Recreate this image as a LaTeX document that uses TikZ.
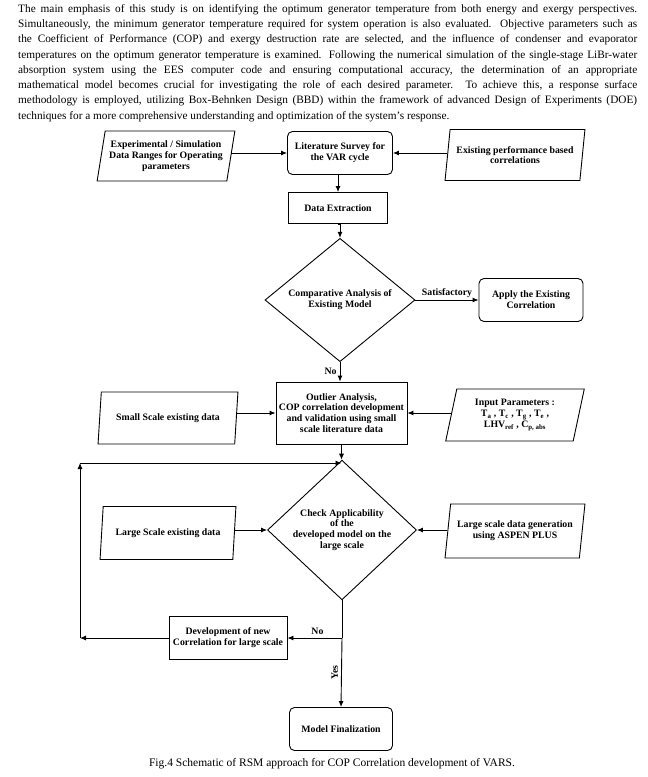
\documentclass[tikz,border=0pt]{standalone}
\usepackage{fontspec}
\setmainfont{Liberation Serif}
\usetikzlibrary{shapes.geometric,arrows.meta}
\begin{document}
\begin{tikzpicture}[x=1pt,y=-1pt,
  lbl/.style={font=\fontsize{9.8}{10.8}\selectfont\bfseries, align=center},
  base/.style={lbl, draw, line width=0.9pt, inner sep=1pt},
  rbox/.style={base, rectangle},
  rrbox/.style={base, rectangle, rounded corners=5pt},
  pgram/.style={base, trapezium, trapezium left angle=77, trapezium right angle=103, trapezium stretches=true, inner xsep=0pt},
  dmd/.style={base, diamond, inner sep=0pt},
  arr/.style={line width=0.9pt, -{Latex[length=6pt,width=5pt]}},
  ln/.style={line width=0.9pt}]
\useasboundingbox (0,0) rectangle (648,777);

\node[anchor=north west, text width=619pt, align=justify, inner sep=0pt, font=\fontsize{11.3}{15.3}\selectfont] (para) at (18,4)
{The main emphasis of this study is on identifying the optimum generator temperature from both energy and exergy perspectives.\linebreak
Simultaneously, the minimum generator temperature required for system operation is also evaluated. Objective parameters such as\linebreak
the Coefficient of Performance (COP) and exergy destruction rate are selected, and the influence of condenser and evaporator\linebreak
temperatures on the optimum generator temperature is examined. Following the numerical simulation of the single-stage LiBr-water\linebreak
absorption system using the EES computer code and ensuring computational accuracy, the determination of an appropriate\linebreak
mathematical model becomes crucial for investigating the role of each desired parameter. To achieve this, a response surface\linebreak
methodology is employed, utilizing Box-Behnken Design (BBD) within the framework of advanced Design of Experiments (DOE)\linebreak
techniques for a more comprehensive understanding and optimization of the system's response.\par};

% main column
\node[rrbox, minimum width=105pt, minimum height=43pt] (lit) at (340,153) {Literature Survey for\\the VAR cycle};
\node[rbox, minimum width=99pt, minimum height=31pt] (ext) at (338,208) {Data Extraction};
\node[dmd, minimum width=150pt, minimum height=104pt] (cmp) at (340,300) {Comparative Analysis of\\Existing Model};
\node[rrbox, minimum width=104pt, minimum height=43pt] (apply) at (531,300) {Apply the Existing\\Correlation};
\node[rbox, minimum width=131pt, minimum height=62pt] (out) at (341.5,413) {Outlier Analysis,\\COP correlation development\\and validation using small\\scale literature data};
\node[dmd, minimum width=149pt, minimum height=114pt] (chk) at (342,530) {Check Applicability\\of the\\developed model on the\\large scale};
\node[rbox, minimum width=118pt, minimum height=43pt] (dev) at (228,638) {Development of new\\Correlation for large scale};
\node[rrbox, minimum width=103pt, minimum height=43pt] (fin) at (341,729) {Model Finalization};

% side inputs
\node[pgram, minimum width=138pt, minimum height=50pt] (exp) at (166,156) {Experimental / Simulation\\Data Ranges for Operating\\parameters};
\node[pgram, minimum width=140pt, minimum height=51pt] (exist) at (515,155) {Existing performance based\\correlations};
\node[pgram, minimum width=140pt, minimum height=52pt] (small) at (168,418) {Small Scale existing data};
\node[pgram, minimum width=140pt, minimum height=52pt] (inp) at (515,415) {Input Parameters :\\T\textsubscript{a} , T\textsubscript{c} , T\textsubscript{g} , T\textsubscript{e} ,\\LHV\textsubscript{ref} , C\textsubscript{p, abs}};
\node[pgram, minimum width=136pt, minimum height=53pt] (large) at (168,533) {Large Scale existing data};
\node[pgram, minimum width=140pt, minimum height=54pt] (gen) at (515,531) {Large scale data generation\\using ASPEN PLUS};

% connectors
\draw[arr] (exp.east |- lit.west) -- (lit.west);
\draw[arr] (exist.west |- lit.east) -- (lit.east);
\draw[arr] (lit.south -| ext.north) -- (ext.north);
\draw[arr] (ext.south) -- (ext.south -| cmp.north) -- (cmp.north);
\draw[arr] (cmp.east) -- node[lbl, above, inner sep=2pt] {Satisfactory} (apply.west);
\draw[arr] (cmp.south) -- node[lbl, left, pos=0.5, inner sep=3pt] {No} (cmp.south |- out.north);
\draw[arr] (small.east |- out.west) -- (out.west);
\draw[arr] (inp.west |- out.east) -- (out.east);
\draw[arr] (out.south) -- (out.south |- chk.north);
\draw[arr] (large.east |- chk.west) -- (chk.west);
\draw[arr] (gen.west |- chk.east) -- (chk.east);

\coordinate (br) at (chk.south |- dev.east);
\draw[ln] (chk.south) -- (br);
\draw[arr] (br) -- node[lbl, above, inner sep=3pt, pos=0.45] {No} (dev.east);
\draw[arr] (br) -- node[lbl, rotate=90, anchor=south, inner sep=3pt] {Yes} (fin.north);

\coordinate (c1) at (80,638);
\coordinate (c2) at (80,463);
\coordinate (c3) at (out.south |- c2);
\draw[arr] (dev.west) -- (c1);
\draw[arr] (c1) -- (c2);
\draw[arr] (c2) -- (c3);

\node[font=\fontsize{11.5}{13}\selectfont, inner sep=0pt] (cap) at (332,764) {Fig.4 Schematic of RSM approach for COP Correlation development of VARS.};
\end{tikzpicture}
\end{document}
